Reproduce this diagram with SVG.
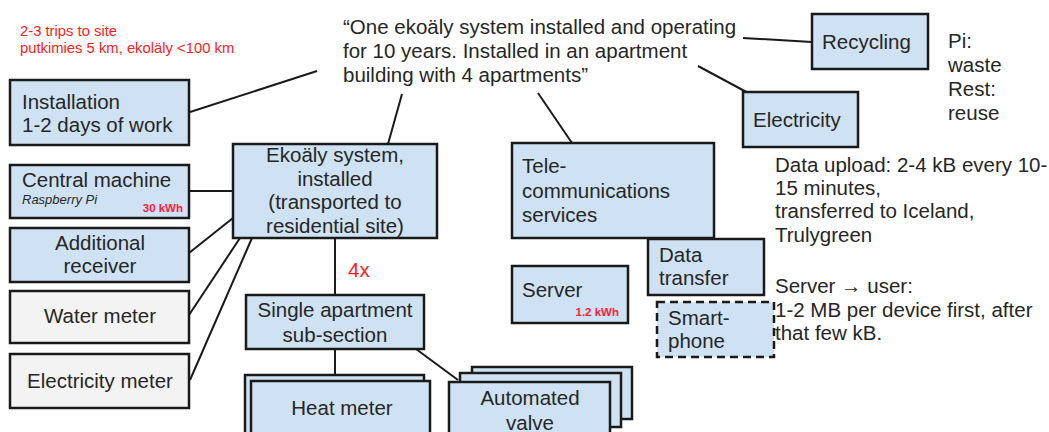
<svg xmlns="http://www.w3.org/2000/svg" width="1049" height="432" viewBox="0 0 1049 432">
<style>
text{font-family:"Liberation Sans",Arial,sans-serif;font-size:20.5px;fill:#262626}
.box{fill:#cfe2f3;stroke:#1a1a1a;stroke-width:2.5}
.grey{fill:#f3f3f3;stroke:#1a1a1a;stroke-width:2.5}
.dash{fill:#cfe2f3;stroke:#1a1a1a;stroke-width:2.5;stroke-dasharray:8 5}
.c{text-anchor:middle}
.red{fill:#ff1a1a}
.small{font-size:11.5px;font-weight:bold;fill:#ff1a3a}
.note{font-size:14.8px;fill:#ff1a1a}
.conn line{stroke:#1a1a1a;stroke-width:2}
</style>
<rect width="1049" height="432" fill="#ffffff"/>
<g class="conn" id="connectors">
<line x1="190" y1="112" x2="317" y2="71"/>
<line x1="743" y1="38" x2="812" y2="42"/>
<line x1="698" y1="66" x2="752" y2="95"/>
<line x1="402" y1="94" x2="388" y2="144"/>
<line x1="538" y1="93" x2="572" y2="143"/>
<line x1="189" y1="191" x2="233" y2="191"/>
<line x1="189" y1="253" x2="233" y2="218"/>
<line x1="189" y1="315" x2="240" y2="238"/>
<line x1="190" y1="380" x2="252" y2="238"/>
<line x1="335" y1="238" x2="335" y2="295"/>
<line x1="335" y1="349" x2="335" y2="375"/>
<line x1="416" y1="349" x2="458" y2="380"/>
</g>
<g id="note-trips">
<text class="note" x="20" y="36">2-3 trips to site</text>
<text class="note" x="20" y="53">putkimies 5 km, ekoläly &lt;100 km</text>
</g>
<g id="quote">
<text x="343" y="34">“One ekoäly system installed and operating</text>
<text x="343" y="58">for 10 years. Installed in an apartment</text>
<text x="343" y="82">building with 4 apartments”</text>
</g>
<g id="installation">
<rect class="box" x="10" y="80" width="179" height="65"/>
<text x="22" y="109">Installation</text>
<text x="22" y="132">1-2 days of work</text>
</g>
<g id="recycling">
<rect class="box" x="812" y="14" width="116" height="55"/>
<text x="822" y="49">Recycling</text>
</g>
<g id="note-pi">
<text x="948" y="48">Pi:</text>
<text x="948" y="72">waste</text>
<text x="948" y="96">Rest:</text>
<text x="948" y="120">reuse</text>
</g>
<g id="electricity">
<rect class="box" x="743" y="92" width="115" height="55"/>
<text x="753" y="127">Electricity</text>
</g>
<g id="ekoaly">
<rect class="box" x="233" y="144" width="204" height="94"/>
<text class="c" x="335" y="162">Ekoäly system,</text>
<text class="c" x="335" y="186">installed</text>
<text class="c" x="335" y="209">(transported to</text>
<text class="c" x="335" y="233">residential site)</text>
</g>
<g id="tele">
<rect class="box" x="512" y="143" width="202" height="95"/>
<text x="522" y="173">Tele-</text>
<text x="522" y="198">communications</text>
<text x="522" y="222">services</text>
</g>
<g id="datatransfer">
<rect class="box" x="648" y="239" width="116" height="56"/>
<text x="659" y="262">Data</text>
<text x="659" y="285">transfer</text>
</g>
<g id="server">
<rect class="box" x="512" y="266" width="116" height="57"/>
<text x="522" y="297">Server</text>
<text class="small" x="619" y="316" text-anchor="end">1.2 kWh</text>
</g>
<g id="smartphone">
<rect class="dash" x="657" y="302" width="117" height="55"/>
<text x="668" y="325">Smart-</text>
<text x="668" y="348">phone</text>
</g>
<g id="note-data">
<text x="775" y="172">Data upload: 2-4 kB every 10-</text>
<text x="775" y="195">15 minutes,</text>
<text x="775" y="218">transferred to Iceland,</text>
<text x="775" y="242">Trulygreen</text>
<text x="775" y="293">Server → user:</text>
<text x="775" y="317">1-2 MB per device first, after</text>
<text x="775" y="340">that few kB.</text>
</g>
<g id="central">
<rect class="box" x="10" y="165" width="179" height="53"/>
<text x="22" y="187">Central machine</text>
<text x="22" y="204" style="font-size:13px;font-style:italic">Raspberry Pi</text>
<text class="small" x="183" y="212" text-anchor="end">30 kWh</text>
</g>
<g id="receiver">
<rect class="box" x="10" y="228" width="179" height="54"/>
<text class="c" x="100" y="250">Additional</text>
<text class="c" x="100" y="273">receiver</text>
</g>
<g id="water">
<rect class="grey" x="10" y="291" width="179" height="52"/>
<text class="c" x="100" y="323">Water meter</text>
</g>
<g id="elmeter">
<rect class="grey" x="10" y="354" width="179" height="54"/>
<text class="c" x="100" y="388">Electricity meter</text>
</g>
<g id="fourx">
<text class="red" x="348" y="277">4x</text>
</g>
<g id="single">
<rect class="box" x="246" y="295" width="178" height="54"/>
<text class="c" x="335" y="317">Single apartment</text>
<text class="c" x="335" y="342">sub-section</text>
</g>
<g id="heat">
<rect class="box" x="245" y="375" width="179" height="70"/>
<rect class="box" x="251" y="381" width="179" height="70"/>
<text class="c" x="342" y="415">Heat meter</text>
</g>
<g id="valve">
<rect class="box" x="472" y="367" width="160" height="52"/>
<rect class="box" x="460" y="373" width="161" height="54"/>
<rect class="box" x="449" y="382" width="161" height="70"/>
<text class="c" x="530" y="405">Automated</text>
<text class="c" x="530" y="430">valve</text>
</g>
</svg>
